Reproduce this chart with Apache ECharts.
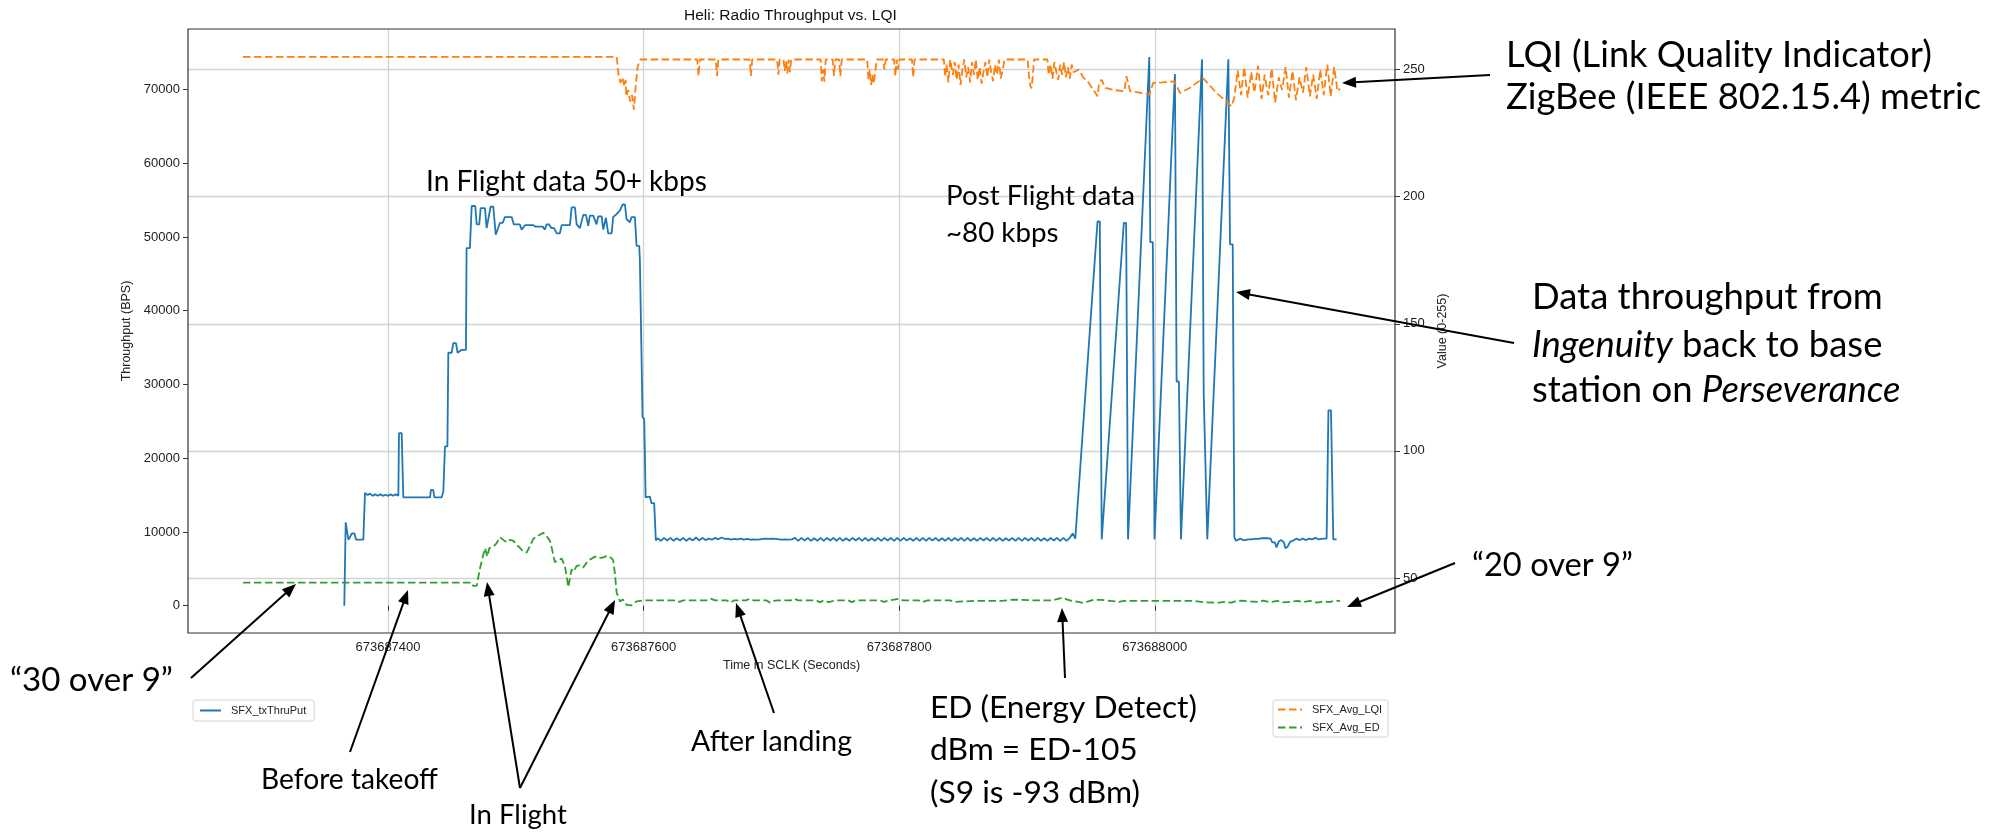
<!DOCTYPE html>
<html><head><meta charset="utf-8">
<script src="https://cdn.jsdelivr.net/npm/echarts@6/dist/echarts.min.js"></script>
<style>html,body{margin:0;padding:0;background:#fff;}#c{width:2003px;height:832px;}</style>
</head><body><div id="c"></div>
<script>
// ---------- DATA (time offsets in seconds from SCLK0) ----------
const SCLK0 = 673687000;
const xTicks = [673687400, 673687600, 673687800, 673688000];
const leftTicks = [0, 10000, 20000, 30000, 40000, 50000, 60000, 70000];
const rightTicks = [50, 100, 150, 200, 250];
const seriesNames = ['SFX_txThruPut', 'SFX_Avg_LQI', 'SFX_Avg_ED'];

// SFX_txThruPut: takeoff + flight + landing
const thruFlight = [[365.8,0],[366.9,11300],[368.2,11300],[369.0,8950],[370.5,8950],[371.8,9800],[373.8,9800],[375.0,8950],[380.7,8950],[382.0,15300],[384,15000],[386,15200],[388,14900],[390,15100],[392,14900],[394,15100],[396,14900],[398,15050],[400,14900],[402,15100],[404,14900],[406,15100],[408.1,14900],[408.6,23400],[410.7,23400],[412.0,14700],[432.9,14700],[433.6,15700],[435.4,15700],[436.3,14700],[442.0,14700],[443.3,15500],[444.6,21600],[446.5,21600],[447.2,34300],[449.8,34300],[451.1,35600],[453.2,35600],[454.5,34300],[456,34300],[457.6,34700],[461.0,34700],[461.5,48500],[464.1,48500],[465.5,54200],[468.3,54200],[469.4,51700],[471.4,51700],[472.5,53900],[475.9,53900],[477.2,51200],[478.5,51200],[480.3,54100],[482.4,54100],[484.3,50300],[485.8,50300],[487.6,51900],[489.7,51900],[491.5,52700],[496.8,52700],[498.5,51700],[503.2,51700],[504.6,51000],[505.8,51000],[507.2,51600],[513.7,51600],[515.5,51400],[521,51400],[522.8,51000],[524.1,51700],[526,51700],[528.0,51200],[530,51200],[532.0,50500],[534.5,50500],[535.9,51600],[542.4,51600],[543.7,54000],[546.3,54000],[547.6,51700],[550.2,51200],[552.8,53000],[554.9,53000],[556.7,51500],[558.0,52900],[560.6,52900],[563.2,51700],[564.5,52800],[567.2,52800],[568.4,51000],[570.5,52600],[572.3,50500],[575.0,50500],[576.2,52700],[578.9,53100],[581.5,53600],[583.6,54400],[585.4,54400],[586.7,52400],[589.3,52000],[590.6,52700],[593.2,52700],[594.5,48800],[596.6,48800],[597.1,46900],[599.2,25600],[600.5,25300],[601.6,14700],[604.9,14800],[606.2,13900],[608.3,13900],[609.6,8850]];
// SFX_txThruPut: after landing, sampled every 2.5 s
const thruOscStart = 611, thruOscStep = 2.5;
const thruOscValues = [9150,8800,9200,8850,9200,8800,9150,8850,9200,8800,9150,8850,9250,8850,9200,8900,
 9100,8950,9200,9000,9250,9050,9100,8950,9050,9000,9100,8950,9050,
 8950,9000,8950,9000,9050,9100,9050,9100,9050,9000,8950,9000,8950,9000,
 9200,8800,9200,8850,9200,8800,9150,8800,9200,8800,
 9200,8850,9200,8800,9200,8800,9150,8800,9200,8850,
 9200,8800,9200,8800,9150,8800,9200,8800,9200,8850,
 9200,8800,9200,8800,9200,8850,9150,8800,9200,8800,
 9200,8800,9200,8850,9200,8800,9150,8800,9200,8800,
 9200,8850,9200,8800,9200,8800,9150,8800,9200,8850,
 9200,8800,9200,8800,9200,8800,9150,8850,9200,8800,
 9200,8800,9200,8850,9200,8800,9200,8800,9150,8800,
 9200,8850,9200,8800,9200,8800,9200];
// SFX_txThruPut: post-flight bursts
const thruPost = [[935.8,9800],[937.0,9800],[937.8,9100],[955.2,52100],[957.0,52100],[958.5,9000],[975.8,51900],[977.6,51900],[979.1,9000],[995.7,74400],[996.5,49300],[998.5,49300],[999.8,9000],[1015.8,72100],[1017.1,30400],[1018.9,30400],[1020.5,9000],[1037.0,74100],[1038.3,28800],[1039.8,28800],[1041.1,9000],[1057.6,74100],[1058.9,49000],[1061.0,49000],[1062.3,9300],[1063.5,8800],[1065,8750],[1067,9100],[1069,8900],[1071,8900],[1073,9000],[1076,9000],[1078,9050],[1081,9050],[1084,9150],[1088,9150],[1090.6,9100],[1092,8600],[1094,8600],[1095.3,7900],[1097,8700],[1099,8900],[1101,8600],[1102.3,7800],[1104,8000],[1106,8700],[1108,8800],[1111,9100],[1113,8900],[1116,9100],[1118,8900],[1121,9100],[1123,9000],[1126,9200],[1128,9000],[1131.9,9100],[1134.5,9100],[1135.9,26500],[1137.9,26500],[1139.7,9000],[1142.3,9000]];

// SFX_Avg_LQI
const lqiPoints = [[286.5,255],[579,255],[580.4,248],[581.9,244.8],[583.4,247],[585,243.4],[585.9,246],[586.5,239.5],[588,242],[589.5,237.5],[591,240],[592.4,234.3],[593.9,244],[595.4,251.3],[597.5,254],
[642,254],[643,247.5],[644,254],[656.5,254],[657.5,247.5],[658.5,254],[683,254],[684,247.5],[685,254],
[704.5,254],[705.5,248],[706.5,254],[709.5,254],[710.5,249.5],[711.5,253.5],[712.5,248.5],[713.5,254],[714.5,249],[715.5,254],
[738.5,254],[739.5,245.5],[740.5,250],[741.5,245.3],[742.5,254],[748,254],[749,247.5],[750,254],[753,254],[754,247.4],[755,254],
[775,254],[776,246],[777,250],[778,244],[779,248],[780,244.5],[781.5,250],[782.5,254],[787.5,254],[788.5,250],[789.5,254],
[796,254],[797,247.4],[798,254],[799,250],[800,254],[810,254],[811,247],[812,254],
[835,254],[836,247],[837,252],[838.5,245],[840,254],[842,248],[843.5,253],[845,246],[846.5,252],[848,244],[849.5,250],[851,254],[852.5,247],[854,251],[855.5,245],[857,253],[858.5,248],[860,254],[861.5,246],[863,251],[864.5,244.5],[866,249],[867.5,253],[869,247],[870.5,254],[872,249],[873.5,245.5],[875,252],[876.5,248],[878,254],[879.5,246.5],[881,250],[882.5,254],
[900.5,254],[901.5,248],[902.5,244],[903.5,242.6],[904.5,247],[905.5,254],
[916,254],[917,248],[918.5,252],[920,246.5],[921.5,253],[923,249],[924.5,246],[926,252],[927.5,248],[929,253],[930.5,247],[932,251],[933.5,246.5],[935,252],[936.5,249],
[940.4,250],[944,247],[948,245],[952,242],[955.3,239.5],[956.3,244],[958.3,246.1],[961.4,242.8],[968,242],[976.3,241.5],[977.8,247.4],[980.8,241.5],[988,241],[995.8,240.2],[998.8,244.8],[1006,245],[1015.3,245.4],[1019.8,240.8],[1028,243],[1037.8,246.7],[1048,241],[1060.2,235.6],[1062.3,239.2],[1064.9,249.7],
[1067.5,240],[1070,251],[1072.7,239],[1075.5,249],[1078,241],[1080.8,251.5],[1083.5,238.5],[1086,248],[1088.8,240],[1091.5,250.5],[1094.2,237],[1097,247],[1099.6,242],[1102.4,251],[1105,239],[1107.8,249.5],[1110.5,238],[1113.2,247],[1116,241],[1118.6,251],[1121.4,239.5],[1124,248],[1126.8,238.5],[1129.5,250],[1132.2,240],[1135,252],[1137.7,239.5],[1140.4,251],[1143,241.5],[1145,242.5]];

// SFX_Avg_ED
const edPoints = [[286.5,48.2],[465.5,48.2],[466.7,46.9],[469.4,46.9],[472,53.8],[474,58],[475.9,61.7],[477.7,58.4],[479.2,61.7],[482.4,62.3],[485,63.7],[487.6,66],[490.2,65],[492.8,64],[495.4,65],[498,64.7],[500.7,63],[503.2,61.9],[505.8,60.4],[508.5,60],[511,62.5],[513.7,65.4],[517,66.5],[521.5,67.8],[524,66.5],[526.7,64.7],[528.5,61],[530.6,56.2],[533,57],[535.9,57.6],[538.4,54.8],[540,50],[541.1,46.4],[543.7,53.4],[545.5,52.5],[547.6,54.8],[550,55],[552.8,54.1],[556.7,57],[559,57.5],[561.9,58.4],[565,57.8],[568.4,58.1],[571,58.6],[573.6,58.4],[576.2,57],[577.5,52],[578.9,44.3],[581.5,40.8],[584,41.5],[586.7,39.4],[590.6,39.2],[594.5,40.8],[599.7,41.2],
[610,41.2],[625,41.2],[628,40.6],[631,41.2],[650,41.2],[653,41.8],[656,41.2],[665,41.2],[668,40.3],[671,41.2],[680,41.2],[683,41.8],[686,41.2],[696,41.2],[699,40.3],[702,41],[705,41.2],[715,41.2],[718,41.8],[721,41.2],[735,41.2],[738,40.4],[741,41.2],[745,40.5],[750,41.2],[760,41.2],[763,40.5],[766,41.2],[785,41.2],[788,40.6],[792,41.2],[800,41.8],[803,41.2],[815,41.2],[818,40.5],[822,41.2],[840,41.2],[843,40.6],[860,41],[880,41],[890,41.5],[905,41.2],[920,41.2],[925,41.9],[928,42.3],[931,41.6],[935,41],[940,40.6],[944,40.2],[948,40.8],[952,41.4],[958,41.4],[965,41],[972,40.6],[976,41],[990,41],[1000,41],[1015,41],[1030,41],[1040,40.4],[1050,40.3],[1055,40.6],[1060,40.3],[1063,40.8],[1068,41.1],[1075,40.8],[1080,40.6],[1085,41.1],[1090,40.5],[1096,41],[1100,40.4],[1106,40.6],[1112,41],[1116,40.5],[1122,41],[1127,40.3],[1132,40.8],[1137,40.5],[1141,41.2],[1145,40.9]];

// ---------- build series data ----------
const toAbs = p => [SCLK0 + p[0], p[1]];
const thruData = thruFlight.map(toAbs)
  .concat(thruOscValues.map((v, i) => [SCLK0 + thruOscStart + i * thruOscStep, v]))
  .concat(thruPost.map(toAbs));
const lqiData = lqiPoints.map(toAbs);
const edData = edPoints.map(toAbs);

// ---------- layout / style ----------
const F = '"Liberation Sans", Arial, sans-serif';
const AF = 'Lato, "Open Sans", sans-serif';
const txt = '#222';

const chart = echarts.init(document.getElementById('c'), null, {renderer: 'canvas'});

// annotation blocks (slide text)
const annBlocks = [
 {x:426, w:281, lines:[{y:182, segs:[['In Flight data 50+ kbps',0]]}]},
 {x:946, w:189, lines:[{y:196, segs:[['Post Flight data',0]]},{y:233, segs:[['~80 kbps',0]]}]},
 {x:1506, w:426, lines:[{y:55, segs:[['LQI (Link Quality Indicator)',0]]},{y:97, segs:[['ZigBee (IEEE 802.15.4) metric',0]]}]},
 {x:1532, w:351, lines:[{y:297, segs:[['Data throughput from',0]]},{y:345, segs:[['Ingenuity',1],[' back to base',0]]},{y:390, segs:[['station on ',0],['Perseverance',1]]}]},
 {x:10, w:163, lines:[{y:680, segs:[['\u201C30 over 9\u201D',0]]}]},
 {x:261, w:177, lines:[{y:780, segs:[['Before takeoff',0]]}]},
 {x:469, w:98, lines:[{y:815, segs:[['In Flight',0]]}]},
 {x:691, w:161, lines:[{y:742, segs:[['After landing',0]]}]},
 {x:930, w:267, lines:[{y:708, segs:[['ED (Energy Detect)',0]]},{y:750, segs:[['dBm = ED-105',0]]},{y:793, segs:[['(S9 is -93 dBm)',0]]}]},
 {x:1472, w:161, lines:[{y:565, segs:[['\u201C20 over 9\u201D',0]]}]}
];
const arrows = [[1490,75,1342,83],[1514,343,1236,292],[191,678,296,584],[350,752,408,590],[520,788,487,582],[520,788,615,600],[774,713,736,603],[1065,678,1062,608],[1455,563,1347,607]];

const mctx = document.createElement('canvas').getContext('2d');
function mw(text, size, it) { mctx.font = (it ? 'italic ' : '') + size + 'px ' + AF; return mctx.measureText(text).width; }

const graphics = [];
annBlocks.forEach(b => {
  const first = b.lines[0].segs;
  let w100 = 0; first.forEach(s => w100 += mw(s[0], 100, s[1]));
  const size = 100 * b.w / w100;
  b.lines.forEach(l => {
    let x = b.x;
    l.segs.forEach(s => {
      graphics.push({type:'text', x: x, y: l.y, z: 100,
        style:{text: s[0], fontFamily: AF, fontSize: size, fontStyle: s[1] ? 'italic' : 'normal', fill:'#000', align:'left', verticalAlign:'middle'}});
      x += mw(s[0], size, s[1]);
    });
  });
});
arrows.forEach(a => {
  const [x1,y1,x2,y2] = a;
  const dx = x2-x1, dy = y2-y1, L = Math.hypot(dx,dy), ux = dx/L, uy = dy/L;
  const hl = 14, hw = 5.5;
  const bx = x2 - ux*hl, by = y2 - uy*hl;
  graphics.push({type:'line', z:100, shape:{x1:x1, y1:y1, x2:bx+ux*2, y2:by+uy*2}, style:{stroke:'#000', lineWidth:2}});
  graphics.push({type:'polygon', z:100, shape:{points:[[x2,y2],[bx - uy*hw, by + ux*hw],[bx + uy*hw, by - ux*hw]]}, style:{fill:'#000'}});
});

const tickStyle = {show:true, length:5, inside:false, lineStyle:{color:'#333', width:1}};
const gridLine = {show:true, lineStyle:{color:'#d3d3d3', width:1.3}};
const hiddenSymbol = {color:'rgba(0,0,0,0)', borderColor:'rgba(0,0,0,0)', borderWidth:0, opacity:0};

chart.setOption({
  animation: false,
  backgroundColor: '#fff',
  title: {text:'Heli: Radio Throughput vs. LQI', left:684, top:8, padding:0,
    textStyle:{fontFamily:F, fontSize:15.5, fontWeight:'normal', color:'#111'}},
  grid: {left:188, right:608, top:29, bottom:199, show:true, borderColor:'#333', borderWidth:1.2, z:5, containLabel:false},
  legend: [
    {data:[seriesNames[0]], left:193, top:700, orient:'vertical', padding:[5,8,5,6], itemWidth:21, itemHeight:10,
     itemStyle: hiddenSymbol,
     textStyle:{fontFamily:F, fontSize:11, color:txt, padding:[0,0,0,5]}, borderColor:'#d4d4d4', borderWidth:1, borderRadius:3, backgroundColor:'#fff'},
    {data:[seriesNames[1], seriesNames[2]], left:1273, top:700, orient:'vertical', padding:[4,6,4,4], itemWidth:24, itemHeight:10, itemGap:7,
     itemStyle: hiddenSymbol,
     textStyle:{fontFamily:F, fontSize:11, color:txt, padding:[0,0,0,5]}, borderColor:'#d4d4d4', borderWidth:1, borderRadius:3, backgroundColor:'#fff'}
  ],
  xAxis: {type:'value', min:673687243.5, max:673688188, minInterval:200, maxInterval:200,
    name:'Time in SCLK (Seconds)', nameLocation:'middle', nameGap:23,
    nameTextStyle:{fontFamily:F, fontSize:12.5, color:txt},
    axisLine:{show:false}, axisTick:Object.assign({customValues:xTicks}, tickStyle),
    axisLabel:{customValues:xTicks, fontFamily:F, fontSize:13, color:txt, margin:8, formatter: v => Number(v).toFixed(0)},
    splitLine: gridLine},
  yAxis: [
    {type:'value', position:'left', min:-3700, max:78200, minInterval:10000, maxInterval:10000,
     name:'Throughput (BPS)', nameLocation:'middle', nameRotate:90, nameGap:40,
     nameTextStyle:{fontFamily:F, fontSize:12.5, color:txt},
     axisLine:{show:false}, axisTick:Object.assign({customValues:leftTicks}, tickStyle),
     axisLabel:{customValues:leftTicks, fontFamily:F, fontSize:13, color:txt, margin:8, formatter: v => String(Math.round(v))},
     splitLine:{show:false}},
    {type:'value', position:'right', min:28.35, max:266, minInterval:50, maxInterval:50,
     name:'Value (0-255)', nameLocation:'middle', nameRotate:90, nameGap:18,
     nameTextStyle:{fontFamily:F, fontSize:12.5, color:txt},
     axisLine:{show:false}, axisTick:Object.assign({customValues:rightTicks}, tickStyle),
     axisLabel:{customValues:rightTicks, fontFamily:F, fontSize:13, color:txt, margin:8, formatter: v => String(Math.round(v))},
     splitLine: gridLine}
  ],
  series: [
    {name:seriesNames[0], type:'line', yAxisIndex:0, data:thruData, symbol:'none', showSymbol:false,
     lineStyle:{color:'#1f77b4', width:1.8}, itemStyle:{color:'#1f77b4'}, z:2},
    {name:seriesNames[1], type:'line', yAxisIndex:1, data:lqiData, symbol:'none', showSymbol:false,
     lineStyle:{color:'#ff7f0e', width:1.8, type:[7.5,3.5]}, itemStyle:{color:'#ff7f0e'}, z:3},
    {name:seriesNames[2], type:'line', yAxisIndex:1, data:edData, symbol:'none', showSymbol:false,
     lineStyle:{color:'#2ca02c', width:1.8, type:[7.5,3.5]}, itemStyle:{color:'#2ca02c'}, z:3}
  ],
  graphic: graphics
});
</script>
</body></html>
